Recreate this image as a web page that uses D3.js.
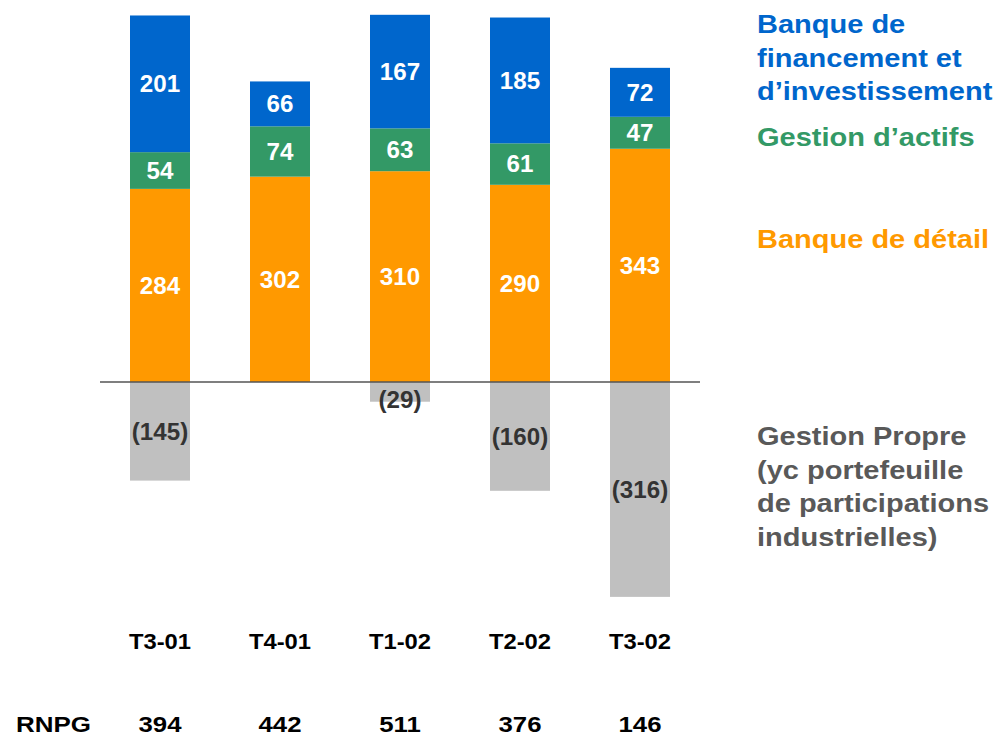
<!DOCTYPE html>
<html>
<head>
<meta charset="utf-8">
<script src="https://cdn.jsdelivr.net/npm/d3@7"></script>
<style>
  body { margin: 0; background: #fff; }
  svg { font-family: "Liberation Sans", Arial, sans-serif; font-weight: bold; }
</style>
</head>
<body>
<div id="main"></div>
<script>
const quarters = ["T3-01", "T4-01", "T1-02", "T2-02", "T3-02"];
const detail = [284, 302, 310, 290, 343];
const actifs = [54, 74, 63, 61, 47];
const bfi = [201, 66, 167, 185, 72];
const propre = [-145, 0, -29, -160, -316];
const rnpg = [394, 442, 511, 376, 146];

const ctx = {
    W: 996,
    H: 736,
    BLUE: "#0066cc",
    GREEN: "#339966",
    ORANGE: "#ff9900",
    GREY: "#c0c0c0",
    GREY_TEXT: "#595959"
};

// the source text is a bit wider than plain Arial bold: stretch it
function stretch(sel, k) {
    sel.each(function () {
        const len = this.getComputedTextLength();
        d3.select(this)
            .attr("textLength", len * k)
            .attr("lengthAdjust", "spacingAndGlyphs");
    });
}

const svg = d3.select("#main").append("svg")
    .attr("width", ctx.W)
    .attr("height", ctx.H);

const x = d3.scaleBand()
    .domain(quarters)
    .range([100, 700])
    .paddingInner(0.5)
    .paddingOuter(0.25);

const y = d3.scaleLinear()
    .domain([-400, 600])
    .range([654, -26]);

// positive stack: detail, actifs, bfi
const series = [
    {values: detail, color: ctx.ORANGE},
    {values: actifs, color: ctx.GREEN},
    {values: bfi, color: ctx.BLUE}
];

const barsG = svg.append("g");
const labelsG = svg.append("g");

quarters.forEach((q, i) => {
    let base = 0;
    series.forEach(s => {
        const v = s.values[i];
        const y0 = y(base), y1 = y(base + v);
        barsG.append("rect")
            .attr("x", x(q))
            .attr("y", y1)
            .attr("width", x.bandwidth())
            .attr("height", y0 - y1)
            .attr("fill", s.color);
        labelsG.append("text")
            .attr("x", x(q) + x.bandwidth() / 2)
            .attr("y", (y0 + y1) / 2)
            .attr("dy", "0.36em")
            .attr("text-anchor", "middle")
            .attr("fill", "white")
            .style("font-size", "23px")
            .text(v);
        base += v;
    });

    // negative part (gestion propre)
    const n = propre[i];
    if (n < 0) {
        const y0 = y(0), y1 = y(n);
        barsG.append("rect")
            .attr("x", x(q))
            .attr("y", y0)
            .attr("width", x.bandwidth())
            .attr("height", y1 - y0)
            .attr("fill", ctx.GREY);
        labelsG.append("text")
            .attr("x", x(q) + x.bandwidth() / 2)
            .attr("y", Math.max((y0 + y1) / 2, y0 + 18))
            .attr("dy", "0.36em")
            .attr("text-anchor", "middle")
            .attr("fill", "#333333")
            .style("font-size", "23px")
            .text(`(${-n})`);
    }
});
stretch(labelsG.selectAll("text"), 1.05);

// zero line
svg.append("line")
    .attr("x1", 100)
    .attr("x2", 700)
    .attr("y1", y(0))
    .attr("y2", y(0))
    .attr("stroke", "#555555")
    .attr("stroke-width", 1.5);

// quarter labels
svg.append("g").selectAll("text")
    .data(quarters)
    .join("text")
    .attr("x", d => x(d) + x.bandwidth() / 2)
    .attr("y", 649)
    .attr("text-anchor", "middle")
    .attr("fill", "black")
    .style("font-size", "22px")
    .text(d => d)
    .call(stretch, 1.08);

// RNPG row
svg.append("text")
    .attr("x", 16)
    .attr("y", 732)
    .attr("fill", "black")
    .style("font-size", "22px")
    .text("RNPG")
    .call(stretch, 1.18);

svg.append("g").selectAll("text")
    .data(rnpg)
    .join("text")
    .attr("x", (d, i) => x(quarters[i]) + x.bandwidth() / 2)
    .attr("y", 732)
    .attr("text-anchor", "middle")
    .attr("fill", "black")
    .style("font-size", "22px")
    .text(d => d)
    .call(stretch, 1.17);

// legend on the right
const legend = [
    {lines: ["Banque de", "financement et", "d\u2019investissement"], color: ctx.BLUE, top: 33},
    {lines: ["Gestion d\u2019actifs"], color: ctx.GREEN, top: 146},
    {lines: ["Banque de détail"], color: ctx.ORANGE, top: 248},
    {lines: ["Gestion Propre", "(yc portefeuille", "de participations", "industrielles)"], color: ctx.GREY_TEXT, top: 445}
];

legend.forEach(l => {
    l.lines.forEach((line, j) => {
        svg.append("text")
            .attr("x", 757)
            .attr("y", l.top + j * 33.7)
            .attr("fill", l.color)
            .style("font-size", "25px")
            .text(line)
            .call(stretch, 1.16);
    });
});
</script>
</body>
</html>
